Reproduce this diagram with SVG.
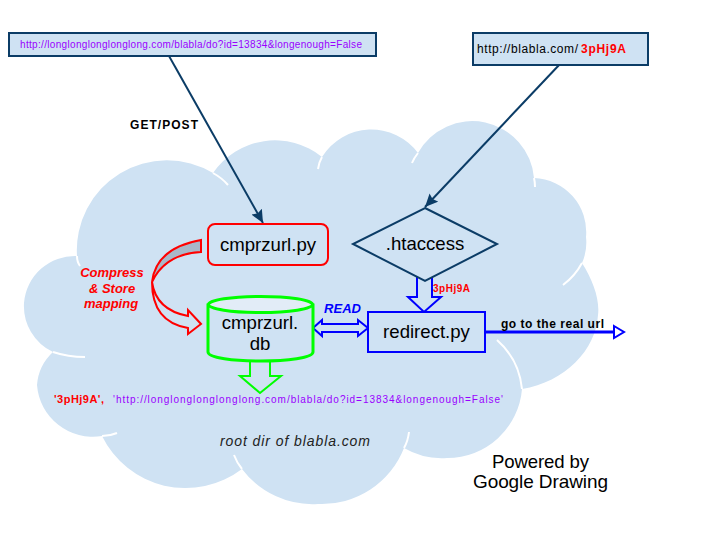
<svg xmlns="http://www.w3.org/2000/svg" width="720" height="540" viewBox="0 0 720 540">
<style>
.c{fill:#cfe2f3}
.w{fill:none;stroke:#fff;stroke-width:2}
text{font-family:"Liberation Sans",Arial,sans-serif}
.n{font-size:18.6px;fill:#000;text-anchor:middle}
.p{font-size:10px;fill:#9900ff}
.r{fill:#f00;font-weight:bold}
.navy{stroke:#0b3c66;stroke-width:2;fill:none}
.box{fill:#cfe2f3;stroke:#0b3c66;stroke-width:2}
</style>
<defs><marker id="a" markerUnits="userSpaceOnUse" markerWidth="15" markerHeight="14" refX="13" refY="6" orient="auto"><path d="M0 0L13 6L0 12L2 6Z" fill="#0b3c66"/></marker></defs>
<rect width="720" height="540" fill="#fff"/>
<g id="cloud">
<path class="c" d="M77 256A90 90 0 0 1 213 173A75 75 0 0 1 322 157A58 58 0 0 1 418 153A62 62 0 0 1 534 178A54 54 0 0 1 586 237A50 50 0 0 1 582 263C593 280 600 300 598 315C596 350 565 382 522 389A75 75 0 0 1 447 458A75 75 0 0 1 404 448A88 88 0 0 1 318 504A88 88 0 0 1 242 469A93 93 0 0 1 102 436A56 56 0 0 1 37 385A50 50 0 0 1 53 352A51 51 0 0 1 24 303A51 51 0 0 1 77 256Z"/>
<path class="w" d="M77 256Q77 262 80 266"/>
<path class="w" d="M213 173Q222 178 228 185"/>
<path class="w" d="M322 157Q319 162 318 169"/>
<path class="w" d="M418 153Q414 158 412 163"/>
<path class="w" d="M534 178Q535 182 535 187"/>
<path class="w" d="M582 263Q575 276 563 285"/>
<path class="w" d="M522 389A75 75 0 0 0 497 340"/>
<path class="w" d="M404 448Q408 441 409 432"/>
<path class="w" d="M242 469Q237 463 234 455"/>
<path class="w" d="M102 436Q110 436 117 433"/>
<path class="w" d="M53 352Q68 357 85 357"/>
</g>
<g id="connectors">
<path class="navy" d="M169 56L263 223" marker-end="url(#a)"/>
<path class="navy" d="M560 64L425 207" marker-end="url(#a)"/>
<path d="M201 240V252Q165 254 152 282Q156 248 201 240Z" fill="#a9b8c9" stroke="#f00" stroke-width="2"/>
<path d="M152 282Q156 310 188 316V310L201 324L188 334V328Q152 322 152 282Z" fill="#cfe2f3" stroke="#f00" stroke-width="2"/>
<path d="M250 359V376H240L260 393L281 376H270V359" fill="#cfe2f3" stroke="#0f0" stroke-width="2"/>
<path d="M417 276V297H408L424 312L441 297H432V276" fill="#cfe2f3" stroke="#00f" stroke-width="2"/>
<path d="M313 328L322 320V324H358V320L368 328L358 336V332H322V336Z" fill="#cfe2f3" stroke="#00f" stroke-width="2"/>
<path d="M486 332H615" stroke="#00f" stroke-width="3" fill="none"/>
<path d="M614 326L624 332L614 338Z" fill="#fff" stroke="#00f" stroke-width="2"/>
</g>
<g id="long-url">
<rect class="box" x="9" y="33" width="367" height="23"/>
<text class="p" x="20" y="48" textLength="342">http://longlonglonglonglong.com/blabla/do?id=13834&amp;longenough=False</text>
</g>
<g id="short-url">
<rect class="box" x="473" y="33" width="175" height="32"/>
<text x="477" y="53" font-size="12" textLength="101">http://blabla.com/</text>
<text class="r" x="581" y="53" font-size="12" textLength="45">3pHj9A</text>
</g>
<text x="130" y="129" font-size="12" font-weight="bold" textLength="68">GET/POST</text>
<g id="cmprzurl-py">
<rect x="208" y="224" width="120" height="41" rx="7" fill="#cfe2f3" stroke="#f00" stroke-width="2"/>
<text class="n" x="268" y="251">cmprzurl.py</text>
</g>
<g id="htaccess">
<path d="M425 208L497 244L425 281L353 244Z" fill="#cfe2f3" stroke="#0b3c66" stroke-width="2"/>
<text class="n" x="425" y="250">.htaccess</text>
</g>
<g id="cmprzurl-db">
<path d="M208 305V352C208 364 313 364 313 352V305Z" fill="#cfe2f3" stroke="#0f0" stroke-width="3"/>
<ellipse cx="260.5" cy="304.5" rx="52" ry="8" fill="#e2ecf7" stroke="#0f0" stroke-width="3"/>
<text class="n" x="260" y="329">cmprzurl.</text>
<text class="n" x="260" y="350">db</text>
</g>
<g id="redirect-py">
<rect x="368" y="312" width="117" height="40" fill="#cfe2f3" stroke="#00f" stroke-width="2"/>
<text class="n" x="426.5" y="338">redirect.py</text>
</g>
<text x="433" y="292" font-size="10" class="r" textLength="37">3pHj9A</text>
<text x="324" y="313" font-size="13" fill="#00f" font-weight="bold" font-style="italic" textLength="37">READ</text>
<text x="501" y="328" font-size="12" font-weight="bold" textLength="103">go to the real url</text>
<g font-size="13" font-weight="bold" font-style="italic" fill="#f00" text-anchor="middle">
<text x="112" y="277">Compress</text><text x="112" y="293">&amp; Store</text><text x="111" y="308">mapping</text>
</g>
<text x="54" y="403" font-size="11" class="r" textLength="50">'3pHj9A',</text>
<text class="p" x="113" y="403" textLength="390">'http://longlonglonglonglong.com/blabla/do?id=13834&amp;longenough=False'</text>
<text x="220" y="446" font-size="14" font-style="italic" fill="#222" textLength="150">root dir of blabla.com</text>
<text x="492" y="468" font-size="18.6" textLength="97">Powered by</text>
<text x="473" y="488" font-size="19" textLength="135">Google Drawing</text>
</svg>
